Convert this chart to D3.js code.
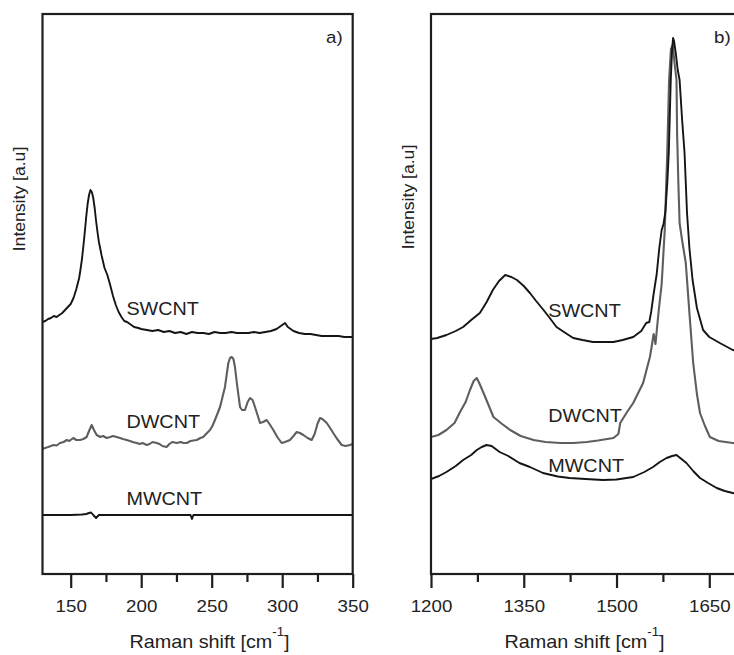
<!DOCTYPE html>
<html><head><meta charset="utf-8">
<script src="https://cdn.jsdelivr.net/npm/d3@7"></script>
<style>html,body{margin:0;padding:0;background:#fff;overflow:hidden}</style>
</head><body><svg id="c" width="734" height="655"></svg>
<script>
// ---- data (Raman shift cm^-1, intensity a.u.) ----
const sampleNames = ["SWCNT", "DWCNT", "MWCNT"];
const panelTags = ["a)", "b)"];
const lowTicks = [150, 200, 250, 300, 350];
const lowMinor = [175, 225, 275, 325];
const highTicks = [1200, 1350, 1500, 1650];
const highMinor = [1275, 1425, 1575];

const swcntLow = [[130,252],[132,253],[134,255],[136,256],[138,258],[140,257],[142,259],[144,261],[146,264],[148,267],[150,270],[152,276],[154,285],[156,296],[157,305],[158,315],[159,328],[160,342],[161,357],[162,370],[163,379],[164,384],[165,382],[166,376],[167,366],[168,353],[169,342],[170,332],[171,325],[172,318],[174,306],[176,299],[178,289],[180,278],[182,269],[184,262],[186,257],[188,253],[190,252],[192,250],[195,247],[198,246],[200,245],[204,244],[208,243],[212,244],[216,242],[220,243],[224,241],[228,242],[232,240],[236,242],[240,241],[244,241],[248,240],[252,242],[256,241],[260,241],[264,242],[268,241],[272,241],[276,241],[280,242],[284,241],[288,242],[292,243],[296,245],[298,247],[300,249],[302,251],[304,247],[306,245],[308,243],[312,241],[316,240],[320,240],[324,239],[328,238],[332,238],[336,238],[340,238],[344,237],[348,237],[350,237]];

const dwcntLow = [[130,125],[131.8,126],[134,127],[136,128],[137.7,129],[140,128.5],[142.4,131],[145,132],[147.2,134],[149,133],[151.8,136],[154,134],[156.6,134],[159,135],[161.3,137],[163,143],[164.9,149],[166.5,144],[168.4,139],[171,137],[173,138],[175.5,136],[178,137],[180,138],[182.6,137],[185,136],[187,135],[189.7,134],[192,133],[194,132],[196.8,131],[199,130],[201,131],[203.9,129],[206,130],[208,132],[211,131],[213,130],[215,128],[218,127],[220,130],[222,132],[225.2,131],[228,132],[230,131],[232.3,131],[235,133],[237,133.5],[239.4,134],[242,136],[244,137],[246,140],[248.8,144],[250.5,148],[252.3,154],[254,160],[255.9,167],[257.5,176],[259.4,187],[260.5,198],[261.8,211],[263,216],[264.2,217],[265.4,215],[266.5,207],[268,189],[270.1,167],[271.5,164],[273.6,164],[275.5,172],[277.2,176],[279,174],[280.7,167],[282.5,159],[284.3,151],[286.5,152],[289,154],[291,150],[293.7,144],[296.5,137],[299.6,131],[302,132],[305.5,134],[308,138],[310.3,142],[312.5,141],[315,139],[318,136],[320.9,134],[323,140],[325,150],[326.8,156],[328.5,155],[331.6,151],[334,146],[336.2,141],[339,135],[342.2,129],[345,128],[348,129],[350,130]];

const mwcntLow = [[130,59],[150,59],[158,59.5],[161,60],[163,61],[164.5,61.5],[166,59],[168,56],[170,59],[190,59],[215,59],[235,59],[236,55],[237,59],[260,59],[300,59],[350,59]];

const swcntHigh = [[1200,235],[1210,236],[1225,239],[1240,243],[1252,247],[1265,254],[1279,261],[1290,272],[1300,284],[1310,293],[1320,299],[1330,297],[1339,294],[1350,288],[1360,281],[1370,273],[1382,264],[1392,256],[1403,247],[1415,242],[1430,236],[1445,234],[1462,232],[1480,232],[1495,232],[1510,234],[1527,237],[1540,243],[1548,251],[1553,252],[1556,262],[1560,280],[1565,300],[1569,325],[1573,344],[1576,350],[1579,362],[1582,390],[1584.5,421],[1587.7,494],[1590,526],[1591.5,536],[1593,533],[1596,520],[1599,504],[1602,494],[1606,455],[1610,421],[1614,361],[1618,325],[1623,294],[1630,266],[1640,244],[1650,237],[1667,231],[1688,224],[1700,222]];

const dwcntHigh = [[1200,137],[1212,139],[1225,144],[1238,151],[1247,162],[1256,172],[1263,184],[1269,193],[1274,196],[1278,191],[1285,181],[1293,169],[1301,157],[1315,150],[1328,144],[1345,138],[1366,134],[1385,132],[1409,131],[1430,131],[1452,132],[1470,133.5],[1495,136],[1503,140],[1506,151],[1516,161],[1527,171],[1543,191],[1554,217],[1557,228],[1560,240],[1563,230],[1568,262],[1573,290],[1578,344],[1582,421],[1585,494],[1588,525],[1591,529],[1594,510],[1597,494],[1598,440],[1600,391],[1602,351],[1606,334],[1612,311],[1618,260],[1624,211],[1630,180],[1635,161],[1643,148],[1651,137],[1665,133],[1688,131],[1700,130]];

const mwcntHigh = [[1200,95],[1213,98],[1225,102],[1240,108],[1252,114],[1265,119],[1274,124],[1282,127],[1290,129],[1298,128],[1311,122],[1325,118],[1343,111],[1360,107],[1381,101],[1405,97.5],[1424,96],[1450,95],[1478,94],[1500,94.5],[1527,97],[1545,102],[1559,107],[1570,112],[1581,116],[1590,118],[1597,119],[1605,115],[1613,111],[1624,103],[1635,96],[1648,91],[1662,86],[1675,83],[1688,81],[1700,79]];

// label anchor values (x in cm^-1, y in intensity units)
const lowLabelPos = [[189.5, 259], [189.5, 146], [189.5, 69]];
const highLabelPos = [[1389.5, 257], [1389.5, 152], [1389.5, 102]];

// ---- drawing ----
const svg = d3.select("#c");
const FONT = "'Liberation Sans', Arial, Helvetica, sans-serif";
const STRETCH = 1.1;
const y = d3.scaleLinear().domain([0, 560]).range([574, 14]);

const panels = [
  {x: d3.scaleLinear().domain([130, 350]).range([42.5, 352.7]), ticks: lowTicks, minor: lowMinor,
   series: [swcntLow, dwcntLow, mwcntLow], labels: lowLabelPos, tag: panelTags[0], tagX: 326,
   titleX: 209.5, yTitleX: 24.5, yTitleY: 199, id: "a"},
  {x: d3.scaleLinear().domain([1200, 1700]).range([431, 740.2]), ticks: highTicks, minor: highMinor,
   series: [swcntHigh, dwcntHigh, mwcntHigh], labels: highLabelPos, tag: panelTags[1], tagX: 714,
   titleX: 584.5, yTitleX: 414, yTitleY: 197, id: "b"}
];
const colors = ["#151515", "#5e5e5e", "#151515"];

panels.forEach(p => {
  const [x0, x1] = p.x.range();
  svg.append("clipPath").attr("id", "clip" + p.id).append("rect")
    .attr("x", x0).attr("y", 14).attr("width", x1 - x0).attr("height", 560);

  const g = svg.append("g");
  const line = d3.line().x(d => p.x(d[0])).y(d => y(d[1]));
  const order = [1, 0, 2];
  order.forEach(i => {
    g.append("path").datum(p.series[i])
      .attr("clip-path", `url(#clip${p.id})`)
      .attr("fill", "none").attr("stroke", colors[i])
      .attr("stroke-width", i === 1 ? 2.1 : 1.9)
      .attr("stroke-linejoin", "round")
      .attr("d", line);
  });

  // frame
  g.append("rect").attr("x", x0).attr("y", 14).attr("width", x1 - x0).attr("height", 560)
    .attr("fill", "none").attr("stroke", "#1e1e1e").attr("stroke-width", 2.2);

  // major axis
  const ax = g.append("g").attr("transform", "translate(0,574)")
    .call(d3.axisBottom(p.x).tickValues(p.ticks).tickSize(14).tickSizeOuter(0).tickFormat(d3.format("d")));
  ax.select(".domain").remove();
  ax.selectAll(".tick line").attr("stroke", "#1e1e1e").attr("stroke-width", 2.2);
  ax.selectAll(".tick text").attr("y", 38).attr("dy", null)
    .attr("font-family", FONT).attr("font-size", 17).attr("fill", "#222")
    .attr("transform", `scale(${STRETCH},1)`);
  // minor axis
  const mx = g.append("g").attr("transform", "translate(0,574)")
    .call(d3.axisBottom(p.x).tickValues(p.minor).tickSize(8).tickSizeOuter(0).tickFormat(""));
  mx.select(".domain").remove();
  mx.selectAll(".tick line").attr("stroke", "#1e1e1e").attr("stroke-width", 2.2);

  // sample labels
  p.labels.forEach((pos, i) => {
    g.append("text")
      .attr("transform", `translate(${p.x(pos[0])},${y(pos[1])}) scale(${STRETCH},1)`)
      .attr("font-family", FONT).attr("font-size", 18).attr("fill", "#222")
      .text(sampleNames[i]);
  });

  // panel tag
  g.append("text").attr("transform", `translate(${p.tagX},43) scale(${STRETCH},1)`)
    .attr("font-family", FONT).attr("font-size", 17).attr("fill", "#222").text(p.tag);

  // x title
  const t = g.append("text").attr("transform", `translate(${p.titleX},648) scale(${STRETCH},1)`)
    .attr("text-anchor", "middle").attr("font-family", FONT).attr("font-size", 18).attr("fill", "#222");
  t.append("tspan").text("Raman shift [cm");
  t.append("tspan").attr("font-size", 12).attr("dy", -12).text("-1");
  t.append("tspan").attr("dy", 12).text("]");

  // y title
  g.append("text").attr("transform", `translate(${p.yTitleX},${p.yTitleY}) rotate(-90) scale(${STRETCH},1)`)
    .attr("text-anchor", "middle").attr("font-family", FONT).attr("font-size", 16).attr("fill", "#222")
    .text("Intensity [a.u]");
});
</script>
</body></html>
